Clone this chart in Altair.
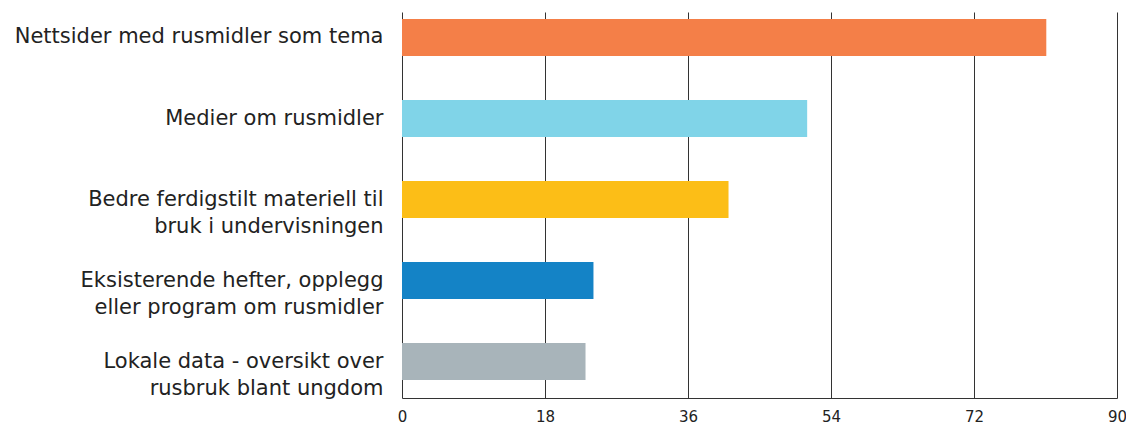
import altair as alt
import pandas as pd

categories = [
    "Nettsider med rusmidler som tema",
    "Medier om rusmidler",
    "Bedre ferdigstilt materiell til|bruk i undervisningen",
    "Eksisterende hefter, opplegg |eller program om rusmidler ",
    "Lokale data - oversikt over|rusbruk blant ungdom",
]
values = [81.1, 51.0, 41.1, 24.1, 23.1]
colors = ["#F47F48", "#80D4E8", "#FCBE17", "#1483C6", "#A8B4BA"]
x_ticks = [0, 18, 36, 54, 72, 90]

df = pd.DataFrame({"cat": categories, "val": values})

FONT = "DejaVu Sans"

chart = (
    alt.Chart(df)
    .mark_bar()
    .encode(
        x=alt.X(
            "val:Q",
            scale=alt.Scale(domain=[0, 90], nice=False),
            axis=alt.Axis(
                values=x_ticks,
                title=None,
                grid=True,
                gridColor="#333333",
                gridWidth=1,
                ticks=False,
                domain=True,
                domainColor="#333333",
                labelFontSize=15,
                labelFont=FONT,
                labelColor="#222222",
                labelPadding=11,
                labelFlush=False,
            ),
        ),
        y=alt.Y(
            "cat:N",
            sort=categories,
            scale=alt.Scale(paddingInner=0.543, paddingOuter=0.154, align=0.28),
            axis=alt.Axis(
                title=None,
                ticks=False,
                domain=False,
                labelFontSize=21,
                labelFont=FONT,
                labelColor="#222222",
                labelPadding=19,
                labelLimit=500,
                labelLineHeight=27,
                labelExpr="split(datum.label, '|')",
            ),
        ),
        color=alt.Color(
            "cat:N",
            scale=alt.Scale(domain=categories, range=colors),
            legend=None,
        ),
    )
    .properties(
        width=715,
        height=386,
        autosize=alt.AutoSizeParams(type="none"),
        padding={"left": 394, "top": 4, "right": 9, "bottom": 29},
    )
    .configure_view(stroke=None)
)

chart.save("out.html", embed_options={"renderer": "svg", "actions": False})
